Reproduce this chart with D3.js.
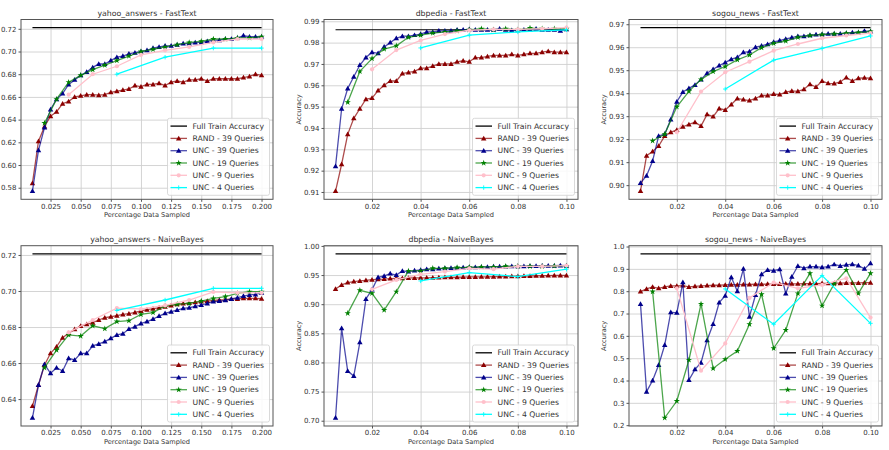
<!DOCTYPE html>
<html>
<head>
<meta charset="utf-8">
<script src="https://cdnjs.cloudflare.com/ajax/libs/d3/7.8.5/d3.min.js"></script>
<style>
  body { margin: 0; background: #fff; }
  svg text { font-family: "DejaVu Sans", sans-serif; fill: #333; }
</style>
</head>
<body>
<div id="vis"></div>
<script>
// x positions (fraction of data sampled)
const xs39A = [0.01,0.015,0.02,0.025,0.03,0.035,0.04,0.045,0.05,0.055,0.06,0.065,0.07,0.075,0.08,0.085,0.09,0.095,0.1,0.105,0.11,0.115,0.12,0.125,0.13,0.135,0.14,0.145,0.15,0.155,0.16,0.165,0.17,0.175,0.18,0.185,0.19,0.195,0.2];
const xs19A = [0.02,0.03,0.04,0.05,0.06,0.07,0.08,0.09,0.1,0.11,0.12,0.13,0.14,0.15,0.16,0.17,0.18,0.19,0.2];
const xs9A = [0.04,0.06,0.08,0.1,0.12,0.14,0.16,0.18,0.2];
const xs4A = [0.08,0.12,0.16,0.2];
const xs39B = [0.005,0.0075,0.01,0.0125,0.015,0.0175,0.02,0.0225,0.025,0.0275,0.03,0.0325,0.035,0.0375,0.04,0.0425,0.045,0.0475,0.05,0.0525,0.055,0.0575,0.06,0.0625,0.065,0.0675,0.07,0.0725,0.075,0.0775,0.08,0.0825,0.085,0.0875,0.09,0.0925,0.095,0.0975,0.1];
const xs19B = [0.01,0.015,0.02,0.025,0.03,0.035,0.04,0.045,0.05,0.055,0.06,0.065,0.07,0.075,0.08,0.085,0.09,0.095,0.1];
const xs9B = [0.02,0.03,0.04,0.05,0.06,0.07,0.08,0.09,0.1];
const xs4B = [0.04,0.06,0.08,0.1];

// yahoo_answers - FastText
const yahooFtFull = 0.721;
const yahooFtRand = [0.584,0.621,0.634,0.643,0.647,0.654,0.656,0.660,0.661,0.662,0.662,0.6615,0.662,0.664,0.665,0.666,0.667,0.670,0.669,0.671,0.671,0.672,0.670,0.673,0.674,0.673,0.675,0.675,0.676,0.674,0.676,0.676,0.676,0.676,0.676,0.677,0.678,0.680,0.679];
const yahooFtUnc39 = [0.577,0.613,0.633,0.649,0.658,0.663,0.671,0.675,0.679,0.682,0.686,0.689,0.689,0.692,0.695,0.696,0.698,0.699,0.700,0.701,0.703,0.704,0.705,0.705,0.706,0.707,0.707,0.708,0.708,0.709,0.710,0.710,0.711,0.711,0.712,0.714,0.713,0.713,0.713];
const yahooFtUnc19 = [0.637,0.658,0.673,0.679,0.684,0.688,0.692,0.696,0.700,0.702,0.704,0.706,0.708,0.709,0.711,0.711,0.712,0.712,0.713];
const yahooFtUnc9 = [0.662,0.680,0.687,0.697,0.701,0.704,0.708,0.711,0.711];
const yahooFtUnc4 = [0.680,0.695,0.703,0.703];

// dbpedia - FastText
const dbpediaFtFull = 0.986;
const dbpediaFtRand = [0.9104,0.923,0.937,0.9445,0.949,0.9535,0.954,0.9575,0.960,0.962,0.962,0.9655,0.966,0.9665,0.968,0.968,0.969,0.970,0.970,0.970,0.971,0.9715,0.971,0.973,0.973,0.9735,0.974,0.974,0.974,0.9745,0.974,0.9745,0.975,0.975,0.9755,0.976,0.9755,0.9755,0.9755];
const dbpediaFtUnc39 = [0.9221,0.949,0.9585,0.964,0.9695,0.973,0.9755,0.975,0.978,0.980,0.982,0.983,0.983,0.9835,0.984,0.985,0.985,0.9855,0.9855,0.9855,0.986,0.986,0.9862,0.986,0.986,0.986,0.986,0.9865,0.986,0.9858,0.9858,0.986,0.986,0.9865,0.986,0.986,0.986,0.9855,0.9862];
const dbpediaFtUnc19 = [0.952,0.9665,0.9725,0.977,0.9785,0.9825,0.9835,0.9845,0.985,0.9855,0.986,0.9865,0.986,0.9865,0.986,0.9868,0.9865,0.9865,0.9865];
const dbpediaFtUnc9 = [0.9675,0.9765,0.981,0.984,0.9858,0.9862,0.9862,0.9865,0.987];
const dbpediaFtUnc4 = [0.9775,0.9835,0.985,0.986];

// sogou_news - FastText
const sogouFtFull = 0.9685;
const sogouFtRand = [0.8974,0.9128,0.9146,0.917,0.9214,0.923,0.924,0.9254,0.9264,0.9274,0.9257,0.9308,0.9298,0.9333,0.9327,0.9351,0.9377,0.9372,0.9368,0.9377,0.939,0.939,0.9396,0.9394,0.9405,0.941,0.9408,0.9417,0.9439,0.9427,0.9453,0.9443,0.9442,0.9449,0.9468,0.9453,0.9465,0.9467,0.9465];
const sogouFtUnc39 = [0.9009,0.9041,0.9105,0.9214,0.9222,0.9286,0.9363,0.9405,0.9421,0.9436,0.946,0.9487,0.9504,0.952,0.9533,0.9548,0.9556,0.9578,0.9581,0.96,0.9606,0.9613,0.9623,0.9629,0.9636,0.9642,0.9648,0.9648,0.9652,0.9655,0.9656,0.9658,0.9659,0.9659,0.9661,0.9664,0.9664,0.9671,0.9668];
const sogouFtUnc19 = [0.9193,0.9221,0.9341,0.9408,0.946,0.9494,0.9516,0.9545,0.9566,0.9598,0.9617,0.9627,0.9643,0.9651,0.9655,0.9658,0.9661,0.9664,0.9668];
const sogouFtUnc9 = [0.923,0.9407,0.9491,0.9537,0.9585,0.9614,0.9639,0.9651,0.9661];
const sogouFtUnc4 = [0.9418,0.9544,0.9595,0.9649];

// yahoo_answers - NaiveBayes
const yahooNbFull = 0.7206;
const yahooNbRand = [0.6361,0.6478,0.6589,0.6654,0.6691,0.6741,0.6765,0.6787,0.6806,0.6815,0.6824,0.6839,0.6852,0.6857,0.6863,0.687,0.6874,0.6881,0.6889,0.6896,0.6902,0.6907,0.6913,0.6919,0.6926,0.693,0.6933,0.6937,0.6941,0.6944,0.6948,0.695,0.6952,0.6956,0.6956,0.6959,0.6959,0.6959,0.6957];
const yahooNbUnc39 = [0.6296,0.6478,0.6593,0.6543,0.6574,0.6556,0.6626,0.6617,0.6654,0.6654,0.6696,0.6706,0.6719,0.6737,0.6756,0.6763,0.6789,0.6802,0.682,0.683,0.6844,0.6861,0.6876,0.6885,0.6894,0.6904,0.6907,0.6915,0.6922,0.6931,0.6941,0.6944,0.6948,0.6956,0.6963,0.6972,0.6978,0.6981,0.699];
const yahooNbUnc19 = [0.6574,0.6672,0.6756,0.675,0.6807,0.6791,0.683,0.6835,0.687,0.688,0.6917,0.6926,0.6931,0.6944,0.6959,0.6969,0.6987,0.6996,0.6996];
const yahooNbUnc9 = [0.677,0.6839,0.6905,0.690,0.692,0.695,0.6995,0.699,0.699];
const yahooNbUnc4 = [0.6892,0.695,0.7015,0.7015];

// dbpedia - NaiveBayes
const dbpediaNbFull = 0.9863;
const dbpediaNbRand = [0.926,0.933,0.937,0.9387,0.9399,0.941,0.942,0.9427,0.943,0.9439,0.9444,0.9444,0.945,0.945,0.9452,0.9453,0.9455,0.9457,0.946,0.946,0.9462,0.9465,0.9467,0.9468,0.947,0.947,0.9472,0.9474,0.9475,0.9477,0.948,0.9482,0.9484,0.9486,0.9488,0.949,0.9492,0.9492,0.9493];
const dbpediaNbUnc39 = [0.705,0.8585,0.7852,0.7766,0.8345,0.9089,0.925,0.9462,0.9485,0.9525,0.950,0.957,0.956,0.9576,0.9588,0.96,0.960,0.961,0.9616,0.9622,0.9622,0.9628,0.9633,0.9633,0.9639,0.9639,0.9645,0.9645,0.9645,0.965,0.965,0.9652,0.9654,0.9656,0.9658,0.966,0.966,0.9665,0.966];
const dbpediaNbUnc19 = [0.8843,0.9238,0.9187,0.89,0.9215,0.957,0.957,0.9616,0.9616,0.9628,0.9633,0.9639,0.9639,0.965,0.965,0.965,0.965,0.9656,0.9656];
const dbpediaNbUnc9 = [0.9255,0.9416,0.9513,0.956,0.9616,0.96,0.965,0.965,0.9662];
const dbpediaNbUnc4 = [0.9399,0.9542,0.9473,0.96];

// sogou_news - NaiveBayes
const sogouNbFull = 0.967;
const sogouNbRand = [0.798,0.810,0.819,0.813,0.819,0.8236,0.8236,0.825,0.819,0.822,0.8236,0.825,0.8266,0.8266,0.828,0.829,0.829,0.83,0.83,0.831,0.831,0.832,0.832,0.832,0.833,0.833,0.833,0.834,0.834,0.834,0.835,0.835,0.836,0.836,0.837,0.837,0.837,0.838,0.838];
const sogouNbUnc39 = [0.743,0.35,0.40,0.469,0.559,0.706,0.703,0.84,0.402,0.45,0.48,0.58,0.653,0.749,0.78,0.862,0.80,0.90,0.686,0.783,0.876,0.895,0.892,0.898,0.79,0.865,0.913,0.903,0.91,0.91,0.907,0.91,0.92,0.913,0.918,0.921,0.915,0.90,0.925];
const sogouNbUnc19 = [0.798,0.233,0.308,0.492,0.743,0.454,0.495,0.532,0.652,0.786,0.544,0.626,0.79,0.88,0.735,0.833,0.895,0.79,0.88];
const sogouNbUnc9 = [0.813,0.444,0.566,0.77,0.839,0.813,0.828,0.858,0.682];
const sogouNbUnc4 = [0.81,0.652,0.87,0.656];

// tick values
const xTicksYahoo = [0.025,0.05,0.075,0.1,0.125,0.15,0.175,0.2];
const xTicksSmall = [0.02,0.04,0.06,0.08,0.1];
const yTicksYahooFt = [0.58,0.60,0.62,0.64,0.66,0.68,0.70,0.72];
const yTicksDbpediaFt = [0.91,0.92,0.93,0.94,0.95,0.96,0.97,0.98,0.99];
const yTicksSogouFt = [0.90,0.91,0.92,0.93,0.94,0.95,0.96,0.97];
const yTicksYahooNb = [0.64,0.66,0.68,0.70,0.72];
const yTicksDbpediaNb = [0.70,0.75,0.80,0.85,0.90,0.95,1.00];
const yTicksSogouNb = [0.2,0.3,0.4,0.5,0.6,0.7,0.8,0.9,1.0];

const legendNames = ['Full Train Accuracy','RAND - 39 Queries','UNC - 39 Queries','UNC - 19 Queries','UNC - 9 Queries','UNC - 4 Queries'];
const seriesColors = ['#000000','#8b0000','#00008b','#008000','#ffc0cb','#00ffff'];
const seriesMarkers = [null,'tri','tri','star','circle','plus'];

const W = 889, H = 450;
const colBox = [[21, 273], [324, 578], [629, 882]];
const rowBox = [[19.5, 199.3], [245.7, 426]];

const panels = [
  {title: 'yahoo_answers - FastText', col: 0, row: 0, yLabel: false, full: yahooFtFull,
   xs: [xs39A, xs39A, xs19A, xs9A, xs4A], ys: [yahooFtRand, yahooFtUnc39, yahooFtUnc19, yahooFtUnc9, yahooFtUnc4],
   xTicks: xTicksYahoo, xFmt: '.3f', yTicks: yTicksYahooFt, yFmt: '.2f'},
  {title: 'dbpedia - FastText', col: 1, row: 0, yLabel: true, full: dbpediaFtFull,
   xs: [xs39B, xs39B, xs19B, xs9B, xs4B], ys: [dbpediaFtRand, dbpediaFtUnc39, dbpediaFtUnc19, dbpediaFtUnc9, dbpediaFtUnc4],
   xTicks: xTicksSmall, xFmt: '.2f', yTicks: yTicksDbpediaFt, yFmt: '.2f'},
  {title: 'sogou_news - FastText', col: 2, row: 0, yLabel: true, full: sogouFtFull,
   xs: [xs39B, xs39B, xs19B, xs9B, xs4B], ys: [sogouFtRand, sogouFtUnc39, sogouFtUnc19, sogouFtUnc9, sogouFtUnc4],
   xTicks: xTicksSmall, xFmt: '.2f', yTicks: yTicksSogouFt, yFmt: '.2f'},
  {title: 'yahoo_answers - NaiveBayes', col: 0, row: 1, yLabel: false, full: yahooNbFull,
   xs: [xs39A, xs39A, xs19A, xs9A, xs4A], ys: [yahooNbRand, yahooNbUnc39, yahooNbUnc19, yahooNbUnc9, yahooNbUnc4],
   xTicks: xTicksYahoo, xFmt: '.3f', yTicks: yTicksYahooNb, yFmt: '.2f'},
  {title: 'dbpedia - NaiveBayes', col: 1, row: 1, yLabel: true, full: dbpediaNbFull,
   xs: [xs39B, xs39B, xs19B, xs9B, xs4B], ys: [dbpediaNbRand, dbpediaNbUnc39, dbpediaNbUnc19, dbpediaNbUnc9, dbpediaNbUnc4],
   xTicks: xTicksSmall, xFmt: '.2f', yTicks: yTicksDbpediaNb, yFmt: '.2f'},
  {title: 'sogou_news - NaiveBayes', col: 2, row: 1, yLabel: true, full: sogouNbFull,
   xs: [xs39B, xs39B, xs19B, xs9B, xs4B], ys: [sogouNbRand, sogouNbUnc39, sogouNbUnc19, sogouNbUnc9, sogouNbUnc4],
   xTicks: xTicksSmall, xFmt: '.2f', yTicks: yTicksSogouNb, yFmt: '.1f'}
];

let svg = d3.select('#vis')
  .append('svg')
  .attr('width', W)
  .attr('height', H)
  .style('background-color', '#fff');

// marker drawing helper
function drawMarker(g, kind, color, cx, cy) {
  if (kind === 'tri') {
    g.append('path').attr('d', d3.symbol(d3.symbolTriangle, 13)())
      .attr('transform', `translate(${cx},${cy + 0.4})`).attr('fill', color);
  } else if (kind === 'star') {
    g.append('path').attr('d', d3.symbol(d3.symbolStar, 12)())
      .attr('transform', `translate(${cx},${cy})`).attr('fill', color);
  } else if (kind === 'circle') {
    g.append('circle').attr('cx', cx).attr('cy', cy).attr('r', 2.1).attr('fill', color);
  } else if (kind === 'plus') {
    g.append('path').attr('d', `M${cx - 2.2},${cy}H${cx + 2.2}M${cx},${cy - 2.2}V${cy + 2.2}`)
      .attr('stroke', color).attr('stroke-width', 0.9);
  }
}

panels.forEach(function(p, pi) {
  const [left, right] = colBox[p.col];
  const [top, bottom] = rowBox[p.row];
  const g = svg.append('g');

  // matplotlib style auto limits with 5% margins
  const allX = d3.merge(p.xs), allY = d3.merge(p.ys).concat([p.full]);
  const x0 = d3.min(allX), x1 = d3.max(allX), y0 = d3.min(allY), y1 = d3.max(allY);
  const x = d3.scaleLinear().domain([x0 - (x1 - x0) * 0.05, x1 + (x1 - x0) * 0.05]).range([left, right]);
  const y = d3.scaleLinear().domain([y0 - (y1 - y0) * 0.05, y1 + (y1 - y0) * 0.05]).range([bottom, top]);

  // grid
  g.append('g')
    .attr('transform', `translate(0,${bottom})`)
    .call(d3.axisBottom(x).tickValues(p.xTicks).tickSize(-(bottom - top)).tickFormat(''))
    .call(a => a.select('.domain').remove())
    .selectAll('line').attr('stroke', '#cfcfcf').attr('stroke-width', 0.9);
  g.append('g')
    .attr('transform', `translate(${left},0)`)
    .call(d3.axisLeft(y).tickValues(p.yTicks).tickSize(-(right - left)).tickFormat(''))
    .call(a => a.select('.domain').remove())
    .selectAll('line').attr('stroke', '#cfcfcf').attr('stroke-width', 0.9);

  // axes with labels
  const xa = g.append('g')
    .attr('transform', `translate(0,${bottom})`)
    .call(d3.axisBottom(x).tickValues(p.xTicks).tickFormat(d3.format(p.xFmt)).tickSize(2.5).tickPadding(2));
  const ya = g.append('g')
    .attr('transform', `translate(${left},0)`)
    .call(d3.axisLeft(y).tickValues(p.yTicks).tickFormat(d3.format(p.yFmt)).tickSize(2.5).tickPadding(2));
  [xa, ya].forEach(a => {
    a.select('.domain').remove();
    a.selectAll('line').attr('stroke', '#555');
    a.selectAll('text').style('font-size', '7px').style('font-family', '"DejaVu Sans", sans-serif').attr('fill', '#333');
  });

  // clip
  const clipId = 'clip' + pi;
  g.append('clipPath').attr('id', clipId)
    .append('rect').attr('x', left).attr('y', top).attr('width', right - left).attr('height', bottom - top);
  const plot = g.append('g').attr('clip-path', `url(#${clipId})`);

  // full train accuracy
  plot.append('path')
    .datum(p.xs[0])
    .attr('d', d3.line().x(d => x(d)).y(() => y(p.full)))
    .attr('fill', 'none').attr('stroke', '#000').attr('stroke-width', 1.1);

  // series
  p.ys.forEach(function(vals, si) {
    const color = seriesColors[si + 1];
    const pts = vals.map((v, i) => [p.xs[si][i], v]);
    plot.append('path')
      .datum(pts)
      .attr('d', d3.line().x(d => x(d[0])).y(d => y(d[1])))
      .attr('fill', 'none').attr('stroke', color).attr('stroke-width', 1.3)
      .attr('stroke-opacity', si === 3 || si === 4 ? 1 : 0.7);
    const mg = plot.append('g');
    pts.forEach(d => drawMarker(mg, seriesMarkers[si + 1], color, x(d[0]), y(d[1])));
  });

  // frame
  g.append('rect')
    .attr('x', left).attr('y', top).attr('width', right - left).attr('height', bottom - top)
    .attr('fill', 'none').attr('stroke', '#555').attr('stroke-width', 1);

  // title and labels
  g.append('text')
    .attr('x', (left + right) / 2).attr('y', top - 4)
    .attr('text-anchor', 'middle').style('font-size', '7.8px')
    .text(p.title);
  g.append('text')
    .attr('x', (left + right) / 2).attr('y', bottom + 18)
    .attr('text-anchor', 'middle').style('font-size', '6.6px')
    .text('Percentage Data Sampled');
  if (p.yLabel) {
    g.append('text')
      .attr('transform', `translate(${left - 23},${(top + bottom) / 2})rotate(-90)`)
      .attr('text-anchor', 'middle').style('font-size', '6.6px')
      .text('Accuracy');
  }

  // legend
  const lw = 102, lh = 77;
  const lx = right - 3.5 - lw, ly = bottom - 4 - lh;
  const lg = g.append('g');
  lg.append('rect')
    .attr('x', lx).attr('y', ly).attr('width', lw).attr('height', lh).attr('rx', 2)
    .attr('fill', '#fff').attr('fill-opacity', 0.85).attr('stroke', '#d0d0d0').attr('stroke-width', 0.8);
  legendNames.forEach(function(name, i) {
    const cy = ly + 7.8 + i * 12.3;
    lg.append('line')
      .attr('x1', lx + 3).attr('x2', lx + 19.5).attr('y1', cy).attr('y2', cy)
      .attr('stroke', seriesColors[i]).attr('stroke-width', 1.3)
      .attr('stroke-opacity', i === 0 || i > 3 ? 1 : 0.7);
    if (seriesMarkers[i]) drawMarker(lg, seriesMarkers[i], seriesColors[i], lx + 11.2, cy);
    lg.append('text')
      .attr('x', lx + 25).attr('y', cy).attr('dy', '0.35em')
      .style('font-size', '7.7px')
      .text(name);
  });
});
</script>
</body>
</html>
